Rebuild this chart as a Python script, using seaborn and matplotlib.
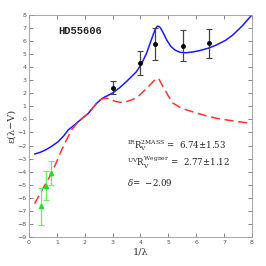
import numpy as np
import pandas as pd
import seaborn as sns
import matplotlib.pyplot as plt

# Model curves
blue_x = [0.2, 0.4, 0.57, 0.8, 1.05, 1.25, 1.41, 1.6, 1.77, 2.13, 2.43, 2.6, 2.72,
          2.85, 3.02, 3.25, 3.5, 3.86, 4.05, 4.22, 4.35, 4.46, 4.53, 4.6, 4.66,
          4.72, 4.8, 4.94, 5.08, 5.23, 5.4, 5.59, 5.85, 6.13, 6.43, 6.73, 7.05,
          7.32, 7.65, 8.0]
blue_y = [-2.65, -2.52, -2.36, -2.08, -1.7, -1.25, -0.8, -0.48, -0.17, 0.47, 1.24,
          1.56, 1.72, 1.85, 2.05, 2.42, 2.9, 3.66, 4.3, 5.07, 5.85, 6.5, 6.9, 7.13,
          7.12, 7.0, 6.7, 6.09, 5.62, 5.32, 5.15, 5.1, 5.15, 5.27, 5.45, 5.7,
          6.05, 6.47, 7.15, 8.0]

red_x = [0.2, 0.5, 0.81, 1.0, 1.17, 1.35, 1.53, 1.77, 2.13, 2.43, 2.55, 2.66, 2.8,
         2.96, 3.1, 3.26, 3.5, 3.74, 3.95, 4.1, 4.3, 4.46, 4.55, 4.6, 4.66, 4.81,
         5.0, 5.17, 5.4, 5.65, 6.0, 6.37, 6.7, 7.09, 7.5, 8.0]
red_y = [-6.45, -5.3, -4.12, -3.2, -2.34, -1.55, -0.8, -0.17, 0.47, 1.24, 1.48,
         1.6, 1.62, 1.5, 1.38, 1.31, 1.36, 1.54, 1.82, 2.13, 2.55, 2.9, 3.08, 3.15,
         3.1, 2.51, 1.8, 1.24, 0.95, 0.73, 0.5, 0.27, 0.1, -0.04, -0.17, -0.3]

# Observed points
uv_x = [3.0, 3.99, 4.54, 5.54, 6.45]
uv_y = [2.41, 4.3, 5.75, 5.63, 5.83]
uv_err = [0.5, 0.9, 1.22, 1.19, 1.12]

ir_x = [0.44, 0.6, 0.79]
ir_y = [-6.65, -5.07, -4.1]
ir_err = [1.4, 1.1, 0.9]

sns.set_style("ticks")
plt.rcParams["mathtext.fontset"] = "dejavuserif"

fig = plt.figure(figsize=(2.66, 2.66), dpi=100)
ax = fig.add_axes([0.109, 0.109, 0.838, 0.835])

sns.lineplot(x=blue_x, y=blue_y, ax=ax, color="#1a1aff", lw=1.1, sort=False)
sns.lineplot(x=red_x, y=red_y, ax=ax, color="#ff3333", lw=1.1, sort=False,
             dashes=False, linestyle=(0, (6, 3)))

ax.errorbar(uv_x, uv_y, yerr=uv_err, fmt="o", ms=2.5, color="black",
            ecolor="#444444", elinewidth=0.9, capsize=2, capthick=0.8)
ax.errorbar(ir_x, ir_y, yerr=ir_err, fmt="^", ms=3, color="#22dd22",
            ecolor="#66ee66", elinewidth=0.9, capsize=2, capthick=0.8)

ax.set_xlim(0, 8)
ax.set_ylim(-9, 8)
ax.set_xticks(range(0, 9))
ax.set_yticks(range(-9, 9))
ax.tick_params(direction="in", length=3, width=0.5, labelsize=4.5,
               colors="#555555", top=True, right=True, pad=2)
for s in ax.spines.values():
    s.set_color("#999999")
    s.set_linewidth(0.6)

ax.set_xlabel("1/λ", fontsize=7, labelpad=2, color="#333333", family="DejaVu Serif")
ax.set_ylabel("ε(λ−V)", fontsize=7, labelpad=1, color="#333333", family="DejaVu Serif")

ax.text(1.05, 6.5, "HD55606", fontsize=7.5, family="Liberation Mono",
        fontweight="bold", color="#222222")
ax.text(3.5, -2.2, r"${}^{\rm IR}{\rm R}_{\rm V}^{\rm 2MASS}$ =  6.74$\pm$1.53",
        fontsize=6.2, family="DejaVu Serif", color="#222222")
ax.text(3.5, -3.6, r"${}^{\rm UV}{\rm R}_{\rm V}^{\rm Wegner}$ =  2.77$\pm$1.12",
        fontsize=6.2, family="DejaVu Serif", color="#222222")
ax.text(3.5, -5.1, r"$\delta$=  $-$2.09",
        fontsize=6.2, family="DejaVu Serif", color="#222222")

fig.savefig("out.png", dpi=100)
